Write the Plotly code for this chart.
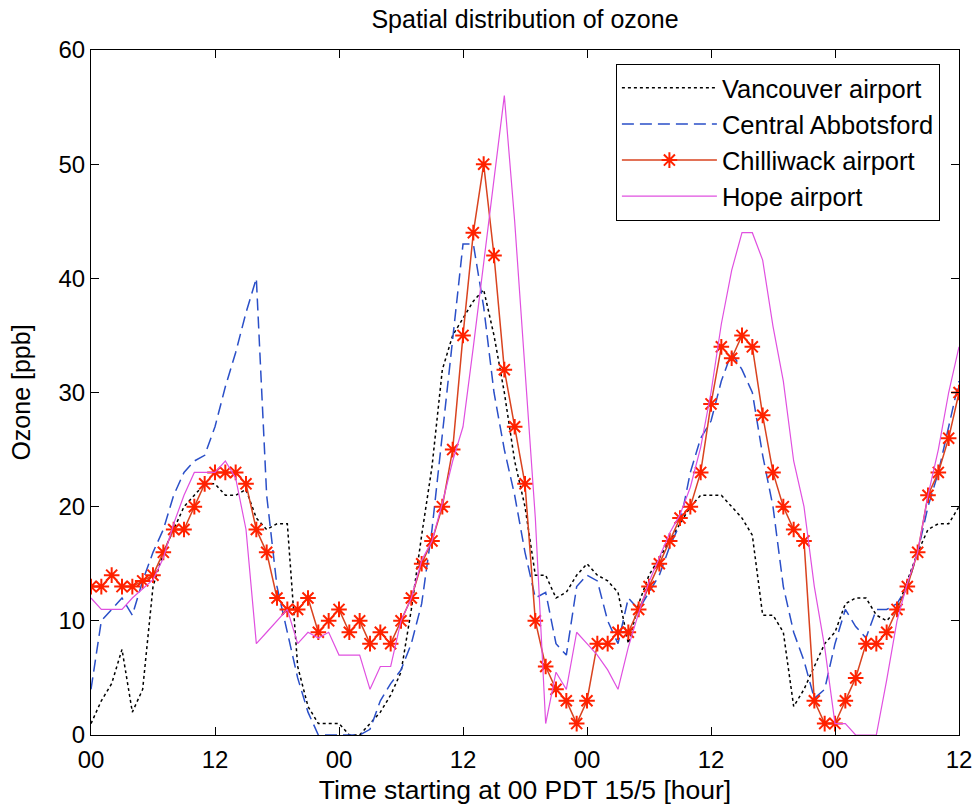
import plotly.graph_objects as go

hours = list(range(0, 85))
tick_vals = [0, 12, 24, 36, 48, 60, 72, 84]
tick_text = ["00", "12", "00", "12", "00", "12", "00", "12"]

vancouver = [1, 3, 4.5, 7.5, 2, 4, 13, 16, 18, 20, 21, 22, 22, 21, 21, 21.5, 19, 18, 18.5, 18.5,
             6, 2.5, 1, 1, 1, 0, 0, 1, 2, 3.5, 5.5, 11, 17.5, 23.5, 32, 35, 36.5, 38, 39, 35,
             30, 24, 20, 14, 14, 12, 12.5, 14, 15, 14, 13.5, 12.5, 8, 11.5, 14, 15.5, 17, 18.5, 20, 21,
             21, 21, 20, 19, 17.5, 10.5, 10.5, 9, 2.5, 4, 6, 8, 9, 11.5, 12, 12, 10.5, 10, 11, 13.5,
             16, 18, 18.5, 18.5, 20]

abbotsford = [4, 10, 11, 12, 10.5, 13.5, 16, 18, 21, 23, 24, 24.5, 27, 30.5, 33.5, 37, 40, 21, 13, 9,
              5, 2, 0, 0, 0, 0, 0, 0.5, 3, 4.5, 5.7, 8, 11.5, 18, 26.5, 35, 43, 43, 37.5, 30,
              25, 21, 16, 12, 12.5, 8, 7, 13, 14, 13.5, 10, 8, 12, 11, 12.5, 14, 16.5, 18.5, 23, 26,
              27.5, 31, 33.5, 32, 30, 24.5, 20, 13, 9, 6.5, 3.2, 4, 8, 11, 9.5, 8.5, 11, 11, 11.5, 13,
              16, 20, 23, 27, 31]

chilliwack = [13, 13, 14, 13, 13, 13.5, 14, 16, 18, 18, 20, 22, 23, 23, 23, 22, 18, 16, 12, 11,
              11, 12, 9, 10, 11, 9, 10, 8, 9, 8, 10, 12, 15, 17, 20, 25, 35, 44, 50, 42,
              32, 27, 22, 10, 6, 4, 3, 1, 3, 8, 8, 9, 9, 11, 13, 15, 17, 19, 20, 23,
              29, 34, 33, 35, 34, 28, 23, 20, 18, 17, 3, 1, 1, 3, 5, 8, 8, 9, 11, 13,
              16, 21, 23, 26, 30]

hope = [12, 11, 11, 11, 12, 12.8, 13.6, 15.5, 18.5, 21, 23, 23, 23, 24, 22.5, 18, 8, 9, 10, 11,
        8, 9, 8.5, 9, 7, 7, 7, 4, 6, 6, 10, 12, 15.3, 17, 20.3, 24, 27, 34, 41.5, 48.5,
        56, 45, 32, 19, 1, 5.5, 4, 9, 8, 7, 5.7, 4, 7.7, 10.7, 13.4, 15.6, 17.7, 19.3, 21.7, 25.2,
        30, 36, 40.7, 44, 44, 41.6, 35.8, 31, 24, 20, 13, 7.7, 1, 1, 0, 0, 0, 4.8, 10, 13.3,
        16, 21, 25, 30, 34]

FONT = "Liberation Sans, Arial, sans-serif"

fig = go.Figure()
fig.add_trace(go.Scatter(x=hours, y=vancouver, mode="lines", name="Vancouver airport",
                         line=dict(color="black", width=1.5, dash="3px,3px")))
fig.add_trace(go.Scatter(x=hours, y=abbotsford, mode="lines", name="Central Abbotsford",
                         line=dict(color="#2a4fc8", width=1.5, dash="12px,6px")))
fig.add_trace(go.Scatter(x=hours, y=chilliwack, mode="lines+markers", name="Chilliwack airport",
                         line=dict(color="#d9431f", width=1.5),
                         marker=dict(symbol="asterisk-open", size=13, color="#ff2200",
                                     line=dict(color="#ff2200", width=2))))
fig.add_trace(go.Scatter(x=hours, y=hope, mode="lines", name="Hope airport",
                         line=dict(color="#e050e0", width=1.2)))

axis_common = dict(showline=True, linecolor="black", linewidth=1, mirror="ticks",
                   ticks="inside", ticklen=8, tickcolor="black", tickwidth=1,
                   showgrid=False, zeroline=False, automargin=False,
                   tickfont=dict(family=FONT, size=24, color="black"))

fig.update_layout(
    width=973, height=808,
    margin=dict(l=91, r=14, t=50, b=73),
    paper_bgcolor="white", plot_bgcolor="white",
    font=dict(family=FONT, size=24, color="black"),
    title=dict(text="Spatial distribution of ozone", x=0.5, xref="paper",
               y=0.976, yref="container", yanchor="middle",
               font=dict(family=FONT, size=25, color="black")),
    xaxis=dict(range=[0, 84], tickvals=tick_vals, ticktext=tick_text,
               ticklabelstandoff=3,
               title=dict(text="Time starting at 00 PDT 15/5 [hour]", standoff=8,
                          font=dict(family=FONT, size=26.5)),
               **axis_common),
    yaxis=dict(range=[0, 60], dtick=10,
               title=dict(text="Ozone [ppb]", standoff=20, font=dict(family=FONT, size=25)),
               **axis_common),
    legend=dict(x=0.978, y=0.98, xanchor="right", yanchor="top",
                bordercolor="black", borderwidth=1, bgcolor="white",
                font=dict(family=FONT, size=25.5, color="black"),
                itemwidth=95, tracegroupgap=0),
    showlegend=True,
)

fig.write_html("out.html")
